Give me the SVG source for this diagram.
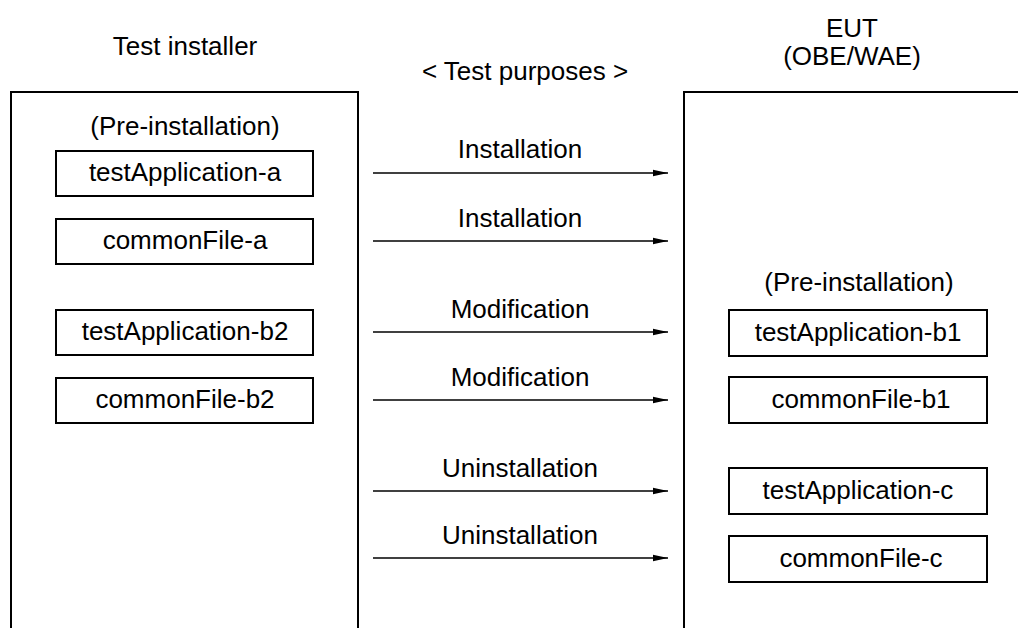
<svg xmlns="http://www.w3.org/2000/svg" width="1018" height="628" viewBox="0 0 1018 628">
<style>
text{font-family:"Liberation Sans",Arial,sans-serif;font-size:26px;fill:#000;text-anchor:middle}
.outer{fill:none;stroke:#000;stroke-width:2}
.box{fill:#fff;stroke:#000;stroke-width:2}
.arr{stroke:#000;stroke-width:1.3;fill:none;marker-end:url(#ah)}
</style>
<defs>
<marker id="ah" markerUnits="userSpaceOnUse" markerWidth="16" markerHeight="8" refX="15" refY="4" orient="auto">
<path d="M0,0.8 L15,4 L0,7.2 Z" fill="#000"/>
</marker>
</defs>
<rect width="1018" height="628" fill="#fff"/>
<g id="test-installer">
<path class="outer" d="M11,628 V92 H358 V628"/>
<text x="185" y="55">Test installer</text>
<text x="185" y="135">(Pre-installation)</text>
</g>
<g id="eut">
<path class="outer" d="M684,628 V92 H1018"/>
<text x="852" y="37">EUT</text>
<text x="852" y="65">(OBE/WAE)</text>
<text x="859" y="291">(Pre-installation)</text>
</g>
<text id="purposes" x="525" y="80">&lt; Test purposes &gt;</text>
<g id="testApplication-a"><rect class="box" x="56" y="151" width="257" height="45"/><text x="185" y="181">testApplication-a</text></g>
<g id="commonFile-a"><rect class="box" x="56" y="219" width="257" height="45"/><text x="185" y="249">commonFile-a</text></g>
<g id="testApplication-b2"><rect class="box" x="56" y="310" width="257" height="45"/><text x="185" y="340">testApplication-b2</text></g>
<g id="commonFile-b2"><rect class="box" x="56" y="378" width="257" height="45"/><text x="185" y="408">commonFile-b2</text></g>
<g id="testApplication-b1"><rect class="box" x="729" y="310" width="258" height="46"/><text x="858" y="341">testApplication-b1</text></g>
<g id="commonFile-b1"><rect class="box" x="729" y="377" width="258" height="46"/><text x="861" y="408">commonFile-b1</text></g>
<g id="testApplication-c"><rect class="box" x="729" y="468" width="258" height="46"/><text x="858" y="499">testApplication-c</text></g>
<g id="commonFile-c"><rect class="box" x="729" y="536" width="258" height="46"/><text x="861" y="567">commonFile-c</text></g>
<g id="connectors">
<line class="arr" x1="373" y1="173" x2="668" y2="173"/><text x="520" y="158">Installation</text>
<line class="arr" x1="373" y1="241" x2="668" y2="241"/><text x="520" y="227">Installation</text>
<line class="arr" x1="373" y1="332" x2="668" y2="332"/><text x="520" y="318">Modification</text>
<line class="arr" x1="373" y1="400" x2="668" y2="400"/><text x="520" y="386">Modification</text>
<line class="arr" x1="373" y1="491" x2="668" y2="491"/><text x="520" y="477">Uninstallation</text>
<line class="arr" x1="373" y1="558" x2="668" y2="558"/><text x="520" y="544">Uninstallation</text>
</g>
</svg>
